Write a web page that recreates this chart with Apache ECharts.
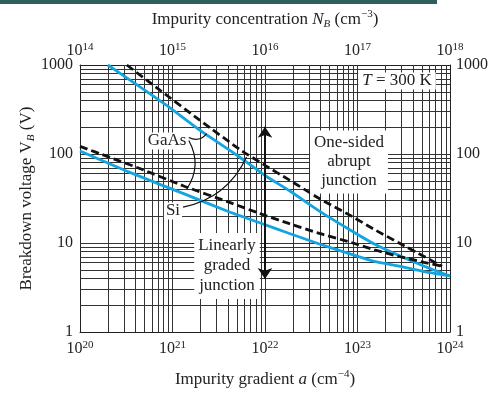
<!DOCTYPE html>
<html>
<head>
<meta charset="utf-8">
<script src="https://cdn.jsdelivr.net/npm/echarts@6/dist/echarts.min.js"></script>
<style>
    html, body { margin: 0; padding: 0; background: #fff; }
    #chart { width: 491px; height: 395px; }
</style>
</head>
<body>
<div id="chart"></div>
<script>
    // one-sided abrupt junctions, read against the top axis N_B (cm^-3)
    let gaasAbruptN = [2.0e14, 3.92e14, 9.33e14, 1.97e15, 4.93e15, 1.01e16, 1.84e16, 3.87e16, 8.15e16, 1.52e17, 2.82e17, 5.25e17, 1.0e18];
    let gaasAbruptV = [1000, 621, 332, 185, 97.5, 57, 38.6, 22.8, 14.2, 9.75, 7.22, 5.49, 4.27];
    let siAbruptN = [3.21e14, 7.3e14, 1.97e15, 5.31e15, 1.01e16, 1.84e16, 3.87e16, 8.15e16, 1.52e17, 2.82e17, 5.25e17, 8.2e17];
    let siAbruptV = [1000, 522, 240, 113, 74.1, 50.9, 31.6, 20.7, 14.2, 10.0, 7.05, 5.49];

    // linearly graded junctions, read against the bottom axis a (cm^-4)
    let siGradedA = [1e20, 2.1e20, 4.43e20, 1.36e21, 4.14e21, 8.73e21, 1.84e22, 3.87e22, 8.15e22, 1.52e23, 2.82e23, 5.25e23, 8.2e23];
    let siGradedV = [122, 91.6, 68.7, 43.2, 28.6, 21.5, 16.5, 12.8, 10.3, 8.4, 7.05, 6.06, 5.49];
    let gaasGradedA = [1e20, 3.46e20, 1.36e21, 4.14e21, 8.73e21, 1.84e22, 3.87e22, 8.15e22, 1.52e23, 2.82e23, 5.25e23, 1e24];
    let gaasGradedV = [108, 62.1, 35.4, 22.3, 16.9, 12.8, 9.75, 7.59, 6.21, 5.49, 4.78, 4.27];

    // axis ranges (decades)
    let gradientDecades = [20, 24];
    let concentrationDecades = [14, 18];
    let voltageDecades = [0, 3];

    // annotation arrow at a = 1e22, and the leaders from the material labels (a, V)
    let arrowA = 1e22;
    let arrowV = [203, 3.94];
    let leaders = [
        [[1.5e21, 153], [2.34e21, 169], -0.4],    // GaAs -> abrupt
        [[1.5e21, 142], [1.43e21, 40.6], 0.3],    // GaAs -> graded
        [[1.3e21, 25.3], [6.32e21, 92.8], -0.25]  // Si -> abrupt
    ];

    let serif = '"Liberation Serif", "DejaVu Serif", serif';
    let ink = '#222';
    let blue = '#12a5df';

    let chartDom = document.getElementById('chart');
    let myChart = echarts.init(chartDom);

    function pairs(xs, ys) {
        return xs.map((x, i) => [x, ys[i]]);
    }

    // log grid: 1..9 in each decade
    let xGrid = [];
    for (let k = gradientDecades[0]; k < gradientDecades[1]; k++) {
        for (let m = 1; m <= 9; m++) xGrid.push(m * Math.pow(10, k));
    }
    let yGrid = [];
    for (let k = voltageDecades[0]; k < voltageDecades[1]; k++) {
        for (let m = 1; m <= 9; m++) yGrid.push(m * Math.pow(10, k));
    }
    let gridLines = xGrid.slice(1).map(v => ({ xAxis: v }))
        .concat(yGrid.slice(1).map(v => ({ yAxis: v })));

    function powerLabel(value) {
        return '10{sup|' + Math.round(Math.log10(value)) + '}';
    }

    let supRich = {
        sup: { fontSize: 11, fontFamily: serif, color: ink, verticalAlign: 'top', lineHeight: 10 }
    };
    let nameRich = {
        i: { fontSize: 17, fontFamily: serif, color: ink, fontStyle: 'italic' },
        sub: { fontSize: 11, fontFamily: serif, color: ink, fontStyle: 'italic', verticalAlign: 'bottom', lineHeight: 10 },
        sup: { fontSize: 11, fontFamily: serif, color: ink, verticalAlign: 'top', lineHeight: 10 }
    };
    let nameStyle = { fontSize: 17, fontFamily: serif, color: ink, lineHeight: 21, rich: nameRich };
    let border = { show: true, onZero: false, lineStyle: { color: ink, width: 1 } };
    let tickFont = { fontSize: 16, color: ink, fontFamily: serif };
    let boxFont = '17px ' + serif;

    let curve = { type: 'line', smooth: 0.2, symbol: 'none', z: 3, silent: true };

    let option = {
        backgroundColor: '#fff',
        animation: false,
        textStyle: { fontFamily: serif },
        grid: { left: 80, right: 40, top: 65, bottom: 54 },
        xAxis: [
            {
                type: 'log', logBase: 10, position: 'bottom',
                min: Math.pow(10, gradientDecades[0]), max: Math.pow(10, gradientDecades[1]),
                axisLine: border, axisTick: { show: false }, splitLine: { show: false },
                axisLabel: Object.assign({ formatter: powerLabel, margin: 8, lineHeight: 18, rich: supRich }, tickFont),
                name: 'Impurity gradient {i|a} (cm{sup|−4})',
                nameLocation: 'middle', nameGap: 37, nameMoveOverlap: false, nameTextStyle: nameStyle
            },
            {
                type: 'log', logBase: 10, position: 'top',
                min: Math.pow(10, concentrationDecades[0]), max: Math.pow(10, concentrationDecades[1]),
                axisLine: border, axisTick: { show: false }, splitLine: { show: false },
                axisLabel: Object.assign({ formatter: powerLabel, margin: 5, lineHeight: 18, rich: supRich }, tickFont),
                name: 'Impurity concentration {i|N}{sub|B} (cm{sup|−3})',
                nameLocation: 'middle', nameGap: 35, nameMoveOverlap: false, nameTextStyle: nameStyle
            }
        ],
        yAxis: [
            {
                type: 'log', logBase: 10, position: 'left',
                min: Math.pow(10, voltageDecades[0]), max: Math.pow(10, voltageDecades[1]),
                axisLine: border, axisTick: { show: false }, splitLine: { show: false },
                axisLabel: Object.assign({ formatter: v => String(Math.round(v)), margin: 7 }, tickFont),
                name: 'Breakdown voltage V{sub|B} (V)',
                nameLocation: 'middle', nameGap: 43, nameMoveOverlap: false, nameTextStyle: nameStyle
            },
            {
                type: 'log', logBase: 10, position: 'right',
                min: Math.pow(10, voltageDecades[0]), max: Math.pow(10, voltageDecades[1]),
                axisLine: border, axisTick: { show: false }, splitLine: { show: false },
                axisLabel: Object.assign({ formatter: v => String(Math.round(v)), margin: 6 }, tickFont)
            }
        ],
        graphic: [
            { type: 'rect', shape: { x: 0, y: 0, width: 437, height: 4 }, style: { fill: '#2f5f5c' }, z: 10 },
            {
                type: 'text', x: 397, y: 81, z: 20,
                style: {
                    text: '{i|T} = 300 K', align: 'center', verticalAlign: 'middle',
                    font: boxFont, fill: ink, backgroundColor: '#fff', padding: [0, 4],
                    rich: { i: { fontStyle: 'italic', fontSize: 17, fontFamily: serif, fill: ink } }
                }
            },
            {
                type: 'text', x: 349, y: 162, z: 20,
                style: {
                    text: 'One-sided\nabrupt\njunction', align: 'center', verticalAlign: 'middle',
                    font: boxFont, fill: ink, lineHeight: 19, backgroundColor: '#fff', padding: [3, 4]
                }
            },
            {
                type: 'text', x: 227, y: 266, z: 20,
                style: {
                    text: 'Linearly\ngraded\njunction', align: 'center', verticalAlign: 'middle',
                    font: boxFont, fill: ink, lineHeight: 20, backgroundColor: '#fff', padding: [3, 4]
                }
            },
            {
                type: 'text', x: 167, y: 141, z: 20,
                style: {
                    text: 'GaAs', align: 'center', verticalAlign: 'middle',
                    font: boxFont, fill: ink, backgroundColor: '#fff', padding: [0, 2]
                }
            },
            {
                type: 'text', x: 173, y: 211, z: 20,
                style: {
                    text: 'Si', align: 'center', verticalAlign: 'middle',
                    font: boxFont, fill: ink, backgroundColor: '#fff', padding: [0, 2]
                }
            }
        ],
        series: [
            {
                name: 'grid', type: 'line', data: [], silent: true,
                xAxisIndex: 0, yAxisIndex: 0,
                markLine: {
                    silent: true, symbol: 'none', z: 1, animation: false,
                    label: { show: false }, emphasis: { disabled: true },
                    lineStyle: { color: '#333', width: 1, type: 'solid' },
                    data: gridLines
                }
            },
            Object.assign({}, curve, {
                name: 'GaAs abrupt', xAxisIndex: 1, yAxisIndex: 0,
                data: pairs(gaasAbruptN, gaasAbruptV),
                lineStyle: { color: blue, width: 2.8 }
            }),
            Object.assign({}, curve, {
                name: 'Si abrupt', xAxisIndex: 1, yAxisIndex: 0,
                data: pairs(siAbruptN, siAbruptV),
                lineStyle: { color: '#111', width: 2.8, type: [8, 4] }
            }),
            Object.assign({}, curve, {
                name: 'Si graded', xAxisIndex: 0, yAxisIndex: 0,
                data: pairs(siGradedA, siGradedV),
                lineStyle: { color: '#111', width: 2.8, type: [8, 4] }
            }),
            Object.assign({}, curve, {
                name: 'GaAs graded', xAxisIndex: 0, yAxisIndex: 0,
                data: pairs(gaasGradedA, gaasGradedV),
                lineStyle: { color: blue, width: 2.8 }
            }),
            {
                name: 'leaders', type: 'lines', coordinateSystem: 'cartesian2d',
                xAxisIndex: 0, yAxisIndex: 0, z: 25, silent: true,
                symbol: 'none',
                lineStyle: { color: '#111', width: 1.2, opacity: 1 },
                data: leaders.map(l => ({ coords: [l[0], l[1]], lineStyle: { curveness: l[2] } }))
            },
            {
                name: 'arrow', type: 'lines', coordinateSystem: 'cartesian2d',
                xAxisIndex: 0, yAxisIndex: 0, z: 25, silent: true,
                symbol: ['arrow', 'arrow'], symbolSize: 11,
                lineStyle: { color: '#111', width: 2, opacity: 1 },
                data: [{ coords: [[arrowA, arrowV[0]], [arrowA, arrowV[1]]] }]
            }
        ]
    };

    option && myChart.setOption(option);
</script>
</body>
</html>
